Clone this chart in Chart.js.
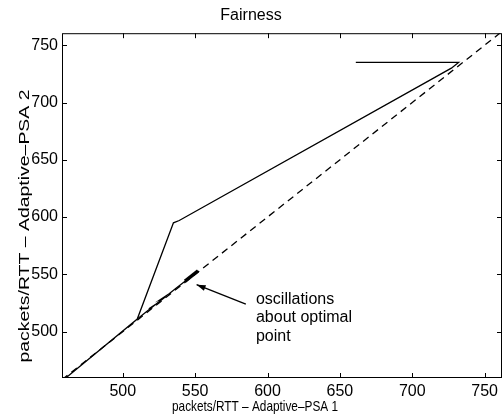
<!DOCTYPE html>
<html>
<head>
<meta charset="utf-8">
<script src="https://cdn.jsdelivr.net/npm/chart.js@4.4.1/dist/chart.umd.min.js"></script>
<style>
  html, body { margin: 0; padding: 0; background: #fff; }
</style>
</head>
<body>
<canvas id="fairness" width="504" height="416"></canvas>
<script>
// tick labels
const xTicks = [500, 550, 600, 650, 700, 750];
const yTicks = [500, 550, 600, 650, 700, 750];

// optimal (fair) line, y = x
const idealX = [458, 762];
const idealY = [458, 762];

// main trajectory
const pathX = [461, 510, 535, 539, 727, 732, 661];
const pathY = [460, 511, 595, 597, 730, 735, 735];

// oscillations along the diagonal
const oscX = [510, 515, 520, 518, 523, 528, 526, 532, 537, 541, 545, 543];
const oscY = [511, 516, 521, 520, 524, 529, 528, 533, 538, 542, 546, 545];
const blobX = [543, 552];
const blobY = [544, 553];

// annotation arrow (tail -> head) and text
const arrowX = [585, 551];
const arrowY = [524, 541];
const noteLines = ["oscillations", "about optimal", "point"];
const noteAt = [592, 528];

const xTitle = "packets/RTT – Adaptive–PSA 1";
const yTitle = "packets/RTT – Adaptive–PSA 2";

const FONT = "'Liberation Sans', Arial, Helvetica, sans-serif";
const zip = (xs, ys) => xs.map((v, i) => ({ x: v, y: ys[i] }));

const frame = {
  id: "frame",
  afterDatasetsDraw(chart) {
    const { ctx, chartArea: a, scales: { x, y } } = chart;
    ctx.save();
    ctx.strokeStyle = "#000";
    ctx.lineWidth = 1;
    ctx.strokeRect(a.left + 0.5, a.top + 0.5, a.right - a.left - 1, a.bottom - a.top - 1);

    // inward ticks on all four sides
    ctx.beginPath();
    xTicks.forEach((v) => {
      const px = Math.round(x.getPixelForValue(v)) + 0.5;
      ctx.moveTo(px, a.bottom); ctx.lineTo(px, a.bottom - 5);
      ctx.moveTo(px, a.top); ctx.lineTo(px, a.top + 5);
    });
    yTicks.forEach((v) => {
      const py = Math.round(y.getPixelForValue(v)) + 0.5;
      ctx.moveTo(a.left, py); ctx.lineTo(a.left + 5, py);
      ctx.moveTo(a.right, py); ctx.lineTo(a.right - 5, py);
    });
    ctx.stroke();

    // arrow head
    const tx = x.getPixelForValue(arrowX[0]), ty = y.getPixelForValue(arrowY[0]);
    const hx = x.getPixelForValue(arrowX[1]), hy = y.getPixelForValue(arrowY[1]);
    const ang = Math.atan2(hy - ty, hx - tx);
    ctx.fillStyle = "#000";
    ctx.beginPath();
    ctx.moveTo(hx, hy);
    ctx.lineTo(hx - 9 * Math.cos(ang) + 3 * Math.sin(ang), hy - 9 * Math.sin(ang) - 3 * Math.cos(ang));
    ctx.lineTo(hx - 9 * Math.cos(ang) - 3 * Math.sin(ang), hy - 9 * Math.sin(ang) + 3 * Math.cos(ang));
    ctx.closePath();
    ctx.fill();

    // note
    ctx.font = "16px " + FONT;
    ctx.textBaseline = "middle";
    ctx.textAlign = "left";
    const nx = x.getPixelForValue(noteAt[0]), ny = y.getPixelForValue(noteAt[1]);
    noteLines.forEach((t, i) => ctx.fillText(t, nx, ny + i * 18.5));

    // axis titles (the scan squeezes the x title and stretches the y title)
    ctx.textAlign = "center";
    ctx.font = "15px " + FONT;
    ctx.fillText(xTitle, 255, 407, 166);
    ctx.translate(25, 226);
    ctx.rotate(-Math.PI / 2);
    ctx.scale(273 / ctx.measureText(yTitle).width, 1);
    ctx.fillText(yTitle, 0, 0);
    ctx.restore();
  }
};

const line = (data, extra) => Object.assign({
  data,
  borderColor: "#000",
  borderWidth: 1.3,
  pointRadius: 0,
  tension: 0,
  fill: false
}, extra);

new Chart(document.getElementById("fairness"), {
  type: "line",
  data: {
    datasets: [
      line(zip(idealX, idealY), { borderDash: [7, 5] }),
      line(zip(pathX, pathY)),
      line(zip(oscX, oscY)),
      line(zip(blobX, blobY), { borderWidth: 3.5 }),
      line(zip(arrowX, arrowY))
    ]
  },
  options: {
    responsive: false,
    animation: false,
    layout: { padding: { left: 0, right: 2, top: 0, bottom: 0 } },
    plugins: {
      legend: { display: false },
      tooltip: { enabled: false },
      title: {
        display: true,
        text: "Fairness",
        color: "#000",
        font: { family: FONT, size: 16, weight: "normal" },
        padding: { top: 6, bottom: 8 }
      }
    },
    scales: {
      x: {
        type: "linear",
        min: 458,
        max: 762,
        afterBuildTicks: (s) => { s.ticks = xTicks.map((v) => ({ value: v })); },
        afterFit: (s) => { s.height = 38; },
        grid: { display: false, drawTicks: false },
        border: { display: false },
        ticks: { color: "#000", padding: 4, font: { family: FONT, size: 16 } }
      },
      y: {
        type: "linear",
        min: 459.5,
        max: 760.5,
        afterBuildTicks: (s) => { s.ticks = yTicks.map((v) => ({ value: v })); },
        afterFit: (s) => { s.width = 62; },
        grid: { display: false, drawTicks: false },
        border: { display: false },
        ticks: { color: "#000", padding: 4, font: { family: FONT, size: 16 } }
      }
    }
  },
  plugins: [frame]
});
</script>
</body>
</html>
